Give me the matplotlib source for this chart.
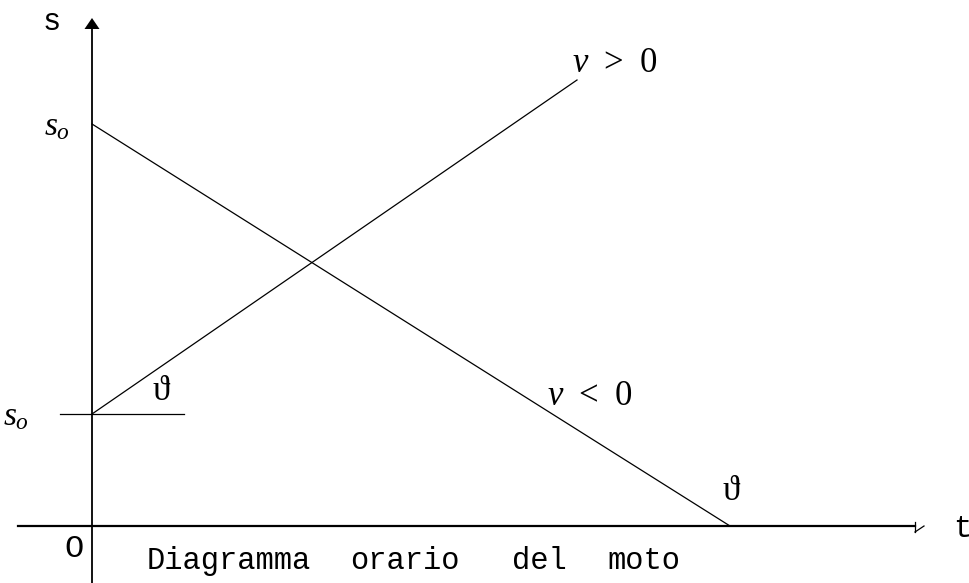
import matplotlib
matplotlib.use("Agg")
import matplotlib.pyplot as plt

# diagram values (1 unit = 10 px of the original drawing)
t_axis = [-7.4, 82.3]          # horizontal axis extent
s_axis = [-5.7, 50.0]          # vertical axis extent (arrow tip above)
s0_high = 40.2                 # start of the decreasing line
s0_low = 11.2                  # start of the increasing line
t_end_neg = 63.8               # v < 0 line hits s = 0 here
t_end_pos, s_end_pos = 48.5, 44.6
theta_ref = [-3.2, 9.2]        # short horizontal reference at s0_low

MONO = "Liberation Mono"
SERIF = ["Liberation Serif", "DejaVu Serif"]
plt.rcParams["mathtext.fontset"] = "custom"
plt.rcParams["mathtext.rm"] = "Liberation Serif"
plt.rcParams["mathtext.it"] = "Liberation Serif:italic"

fig = plt.figure(figsize=(9.7, 5.83), dpi=100)
ax = fig.add_axes([0, 0, 1, 1])
ax.set_xlim(-9.2, 87.8)
ax.set_ylim(-5.7, 52.6)
ax.axis("off")

# axes
ax.plot(t_axis, [0, 0], color="black", lw=1.6)
ax.plot([0, 0], s_axis, color="black", lw=1.3)
ax.fill([-0.75, 0.75, 0], [49.7, 49.7, 50.8], color="black", lw=0)
# small broken arrow mark at the end of the t axis
ax.plot([t_axis[1], t_axis[1]], [0.4, -0.6], color="black", lw=0.9)
ax.plot([t_axis[1], t_axis[1] + 0.9], [-0.6, 0.0], color="black", lw=0.9)

# motion lines
ax.plot([0, t_end_neg], [s0_high, 0], color="black", lw=0.9)
ax.plot([0, t_end_pos], [s0_low, s_end_pos], color="black", lw=0.9)
ax.plot(theta_ref, [s0_low, s0_low], color="black", lw=0.9)

# labels
ax.text(-4.0, 50.4, "s", family=MONO, fontsize=22, ha="center", va="center")
ax.text(87.0, -0.3, "t", family=MONO, fontsize=22, ha="center", va="center")
ax.text(-1.8, -2.3, "O", family=MONO, fontsize=23, ha="center", va="center")
words = ["Diagramma", "orario", "del", "moto"]
word_t = [5.5, 25.8, 42.0, 51.5]
for w, x in zip(words, word_t):
    ax.text(x, -3.5, w, family=MONO, fontsize=22, ha="left", va="center")

ax.text(-3.5, 40.0, r"$s_o$", fontsize=24, ha="center", va="center")
ax.text(-7.6, 11.0, r"$s_o$", fontsize=24, ha="center", va="center")
ax.text(52.3, 46.4, r"$v\,\;>\,\;0$", fontsize=25, ha="center", va="center")
ax.text(49.8, 13.1, r"$v\,\;<\,\;0$", fontsize=25, ha="center", va="center")
ax.text(6.9, 13.5, "\u03d1", family=SERIF, fontsize=25, ha="center", va="center")
ax.text(63.9, 3.4, "\u03d1", family=SERIF, fontsize=25, ha="center", va="center")

fig.savefig("out.png", dpi=100, facecolor="white")
